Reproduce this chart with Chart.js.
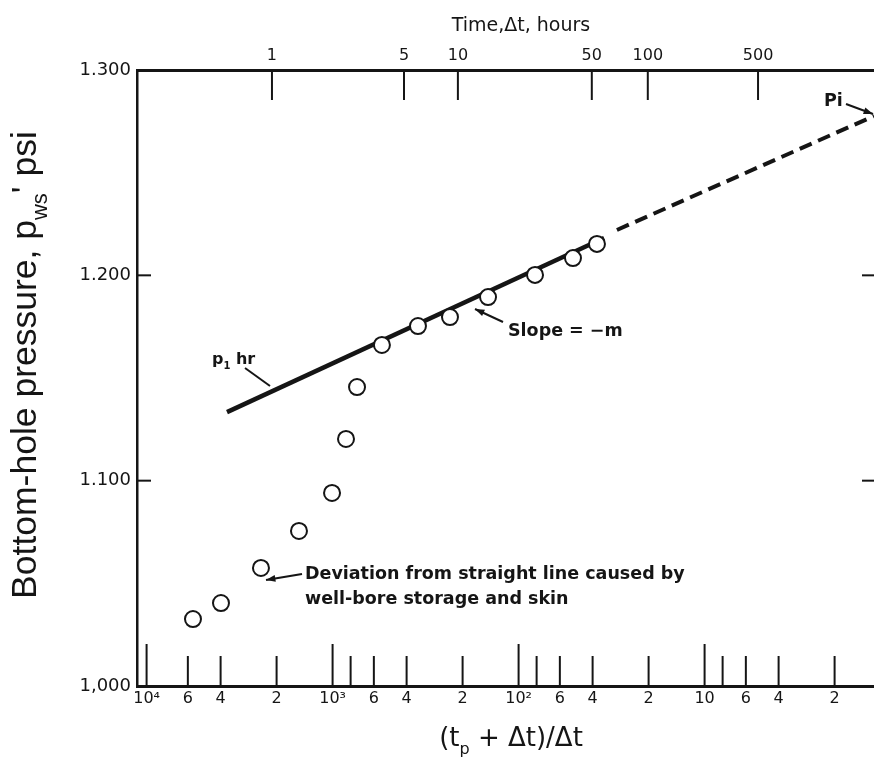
<!DOCTYPE html>
<html lang="en">
<head>
<meta charset="utf-8">
<title>Horner plot</title>
<script src="https://cdn.jsdelivr.net/npm/chart.js@4.4.1/dist/chart.umd.min.js"></script>
<style>
  body { margin: 0; background: #fff; }
  canvas { display: block; }
</style>
</head>
<body>
<canvas id="hornerChart" width="874" height="760"></canvas>
<script>
// Horner ratio (tp + dt)/dt and shut-in pressure
const hornerRatio = [5630, 3981, 2427, 1516, 1007, 847, 739, 543, 347.5, 233.8, 146.0, 81.6, 51.0, 37.9];
const pressure = [1032.6, 1040.4, 1057.5, 1075.5, 1094.0, 1120.3, 1145.6, 1166.1, 1175.3, 1179.7, 1189.4, 1200.2, 1208.4, 1215.3];

// straight line through the late points, then its extrapolation to Pi
const lineRatio = [3696, 34.7];
const linePressure = [1133.4, 1218.2];
const extrapRatio = [29.6, 1.228];
const extrapPressure = [1222.1, 1277.6];

// bottom axis ticks
const hornerTicks = [10000, 6000, 4000, 2000, 1000, 800, 600, 400, 200, 100, 80, 60, 40, 20, 10, 8, 6, 4, 2];
const hornerLabels = ['10⁴', '6', '4', '2', '10³', '', '6', '4', '2', '10²', '', '6', '4', '2', '10', '', '6', '4', '2'];

// top axis: shut-in time in hours, at the horner ratio where the figure puts it
const timeHours = ['1', '5', '10', '50', '100', '500'];
const timeAtRatio = [2118, 413, 212, 40.4, 20.2, 5.16];

// pressure axis
const pressureTicks = [1000, 1100, 1200, 1300];
const pressureLabels = ['1,000', '1.100', '1.200', '1.300'];

const INK = '#151515';
const SANS = '"Liberation Sans", Arial, "DejaVu Sans", sans-serif';
const WIDE = '"DejaVu Sans", sans-serif';

function toPoints(xs, ys) {
  return xs.map((x, i) => ({ x: x, y: ys[i] }));
}

// text with subscript parts: [[text, isSub], ...]
function richText(ctx, parts, x, y, size, family, weight, align) {
  const fontFor = sub => weight + ' ' + (sub ? Math.round(size * 0.62) : size) + 'px ' + family;
  let total = 0;
  parts.forEach(([t, sub]) => { ctx.font = fontFor(sub); total += ctx.measureText(t).width; });
  let cx = align === 'center' ? x - total / 2 : x;
  ctx.textAlign = 'left';
  ctx.textBaseline = 'alphabetic';
  parts.forEach(([t, sub]) => {
    ctx.font = fontFor(sub);
    ctx.fillText(t, cx, y + (sub ? size * 0.3 : 0));
    cx += ctx.measureText(t).width;
  });
}

function arrow(ctx, x1, y1, x2, y2, head) {
  ctx.beginPath();
  ctx.moveTo(x1, y1);
  ctx.lineTo(x2, y2);
  ctx.stroke();
  if (!head) return;
  const a = Math.atan2(y2 - y1, x2 - x1);
  ctx.beginPath();
  ctx.moveTo(x2, y2);
  ctx.lineTo(x2 - 10 * Math.cos(a - 0.35), y2 - 10 * Math.sin(a - 0.35));
  ctx.lineTo(x2 - 10 * Math.cos(a + 0.35), y2 - 10 * Math.sin(a + 0.35));
  ctx.closePath();
  ctx.fill();
}

// tick marks drawn inward from the frame
const innerTicks = {
  id: 'innerTicks',
  afterDatasetsDraw(chart) {
    const { ctx, chartArea: a, scales } = chart;
    ctx.save();
    ctx.strokeStyle = INK;
    ctx.lineWidth = 2;
    const seg = (x1, y1, x2, y2) => { ctx.beginPath(); ctx.moveTo(x1, y1); ctx.lineTo(x2, y2); ctx.stroke(); };
    scales.x.ticks.forEach(t => {
      const px = scales.x.getPixelForValue(t.value);
      const lg = Math.log10(t.value);
      const len = Math.abs(lg - Math.round(lg)) < 1e-9 ? 42 : 30;
      seg(px, a.bottom, px, a.bottom - len);
    });
    scales.xTop.ticks.forEach(t => {
      const px = scales.xTop.getPixelForValue(t.value);
      seg(px, a.top, px, a.top + 30);
    });
    scales.y.ticks.forEach(t => {
      if (t.value <= scales.y.min || t.value >= scales.y.max) return;
      const py = scales.y.getPixelForValue(t.value);
      seg(a.left, py, a.left + 14, py);
      seg(a.right - 12, py, a.right, py);
    });
    ctx.restore();
  }
};

// axis titles and the notes on the plot
const notes = {
  id: 'notes',
  afterDraw(chart) {
    const { ctx, chartArea: a } = chart;
    ctx.save();
    ctx.fillStyle = INK;
    ctx.strokeStyle = INK;

    ctx.save();
    ctx.translate(36, 365);
    ctx.rotate(-Math.PI / 2);
    richText(ctx, [['Bottom-hole pressure, p', false], ['ws', true], ["' psi", false]], 0, 0, 35.5, SANS, 'normal', 'center');
    ctx.restore();

    richText(ctx, [['(t', false], ['p', true], [' + \u0394t)/\u0394t', false]], 511, 746, 26, WIDE, 'normal', 'center');
    richText(ctx, [['Time,\u0394t, hours', false]], 521, 31, 19, WIDE, 'normal', 'center');

    richText(ctx, [['p', false], ['1', true], [' hr', false]], 212, 364, 16, WIDE, 'bold', 'left');
    ctx.lineWidth = 2;
    arrow(ctx, 245, 368, 270, 386, false);

    ctx.font = 'bold 17.5px ' + WIDE;
    ctx.textAlign = 'left';
    ctx.textBaseline = 'alphabetic';
    ctx.fillText('Slope = \u2212m', 508, 336);
    arrow(ctx, 503, 322, 475, 309, true);

    ctx.fillText('Deviation from straight line caused by', 305, 579);
    ctx.fillText('well-bore storage and skin', 305, 604);
    arrow(ctx, 302, 574, 266, 580, true);

    ctx.fillText('Pi', 824, 106);
    arrow(ctx, 846, 104, a.right - 1, 114, true);
    ctx.restore();
  }
};

const tickFont = size => ({ family: WIDE, size: size });
const noPad = s => { s.paddingLeft = 0; s.paddingRight = 0; };

new Chart(document.getElementById('hornerChart'), {
  type: 'scatter',
  data: {
    datasets: [
      {
        data: toPoints(hornerRatio, pressure),
        pointRadius: 8,
        pointHoverRadius: 8,
        pointBorderWidth: 2,
        borderColor: INK,
        backgroundColor: '#fff',
        showLine: false
      },
      {
        data: toPoints(lineRatio, linePressure),
        showLine: true,
        borderColor: INK,
        borderWidth: 4.5,
        pointRadius: 0
      },
      {
        data: toPoints(extrapRatio, extrapPressure),
        showLine: true,
        borderColor: INK,
        borderWidth: 4,
        borderDash: [13, 7],
        pointRadius: 0
      }
    ]
  },
  options: {
    responsive: false,
    animation: false,
    devicePixelRatio: 1,
    layout: { padding: 0, autoPadding: false },
    plugins: { legend: { display: false }, tooltip: { enabled: false } },
    scales: {
      x: {
        type: 'logarithmic',
        position: 'bottom',
        reverse: true,
        min: 1.228,
        max: 11260,
        afterBuildTicks: s => { s.ticks = hornerTicks.map(v => ({ value: v })); },
        afterFit: s => { s.height = 74; noPad(s); },
        grid: { display: false, drawTicks: false },
        border: { display: true, color: INK, width: 3 },
        ticks: {
          autoSkip: false, maxRotation: 0, padding: 3, color: INK, font: tickFont(16),
          callback: (v, i) => hornerLabels[i]
        }
      },
      xTop: {
        type: 'logarithmic',
        position: 'top',
        reverse: true,
        min: 1.228,
        max: 11260,
        afterBuildTicks: s => { s.ticks = timeAtRatio.map(v => ({ value: v })); },
        afterFit: s => { s.height = 70; noPad(s); },
        grid: { display: false, drawTicks: false },
        border: { display: true, color: INK, width: 3 },
        ticks: {
          autoSkip: false, maxRotation: 0, padding: 5, color: INK, font: tickFont(16),
          callback: (v, i) => timeHours[i]
        }
      },
      y: {
        type: 'linear',
        position: 'left',
        min: 1000,
        max: 1300,
        afterBuildTicks: s => { s.ticks = pressureTicks.map(v => ({ value: v })); },
        afterFit: s => { s.width = 137; },
        grid: { display: false, drawTicks: false },
        border: { display: true, color: INK, width: 2.5 },
        ticks: {
          padding: 6, color: INK, font: tickFont(18),
          callback: (v, i) => pressureLabels[i]
        }
      }
    }
  },
  plugins: [innerTicks, notes]
});
</script>
</body>
</html>
